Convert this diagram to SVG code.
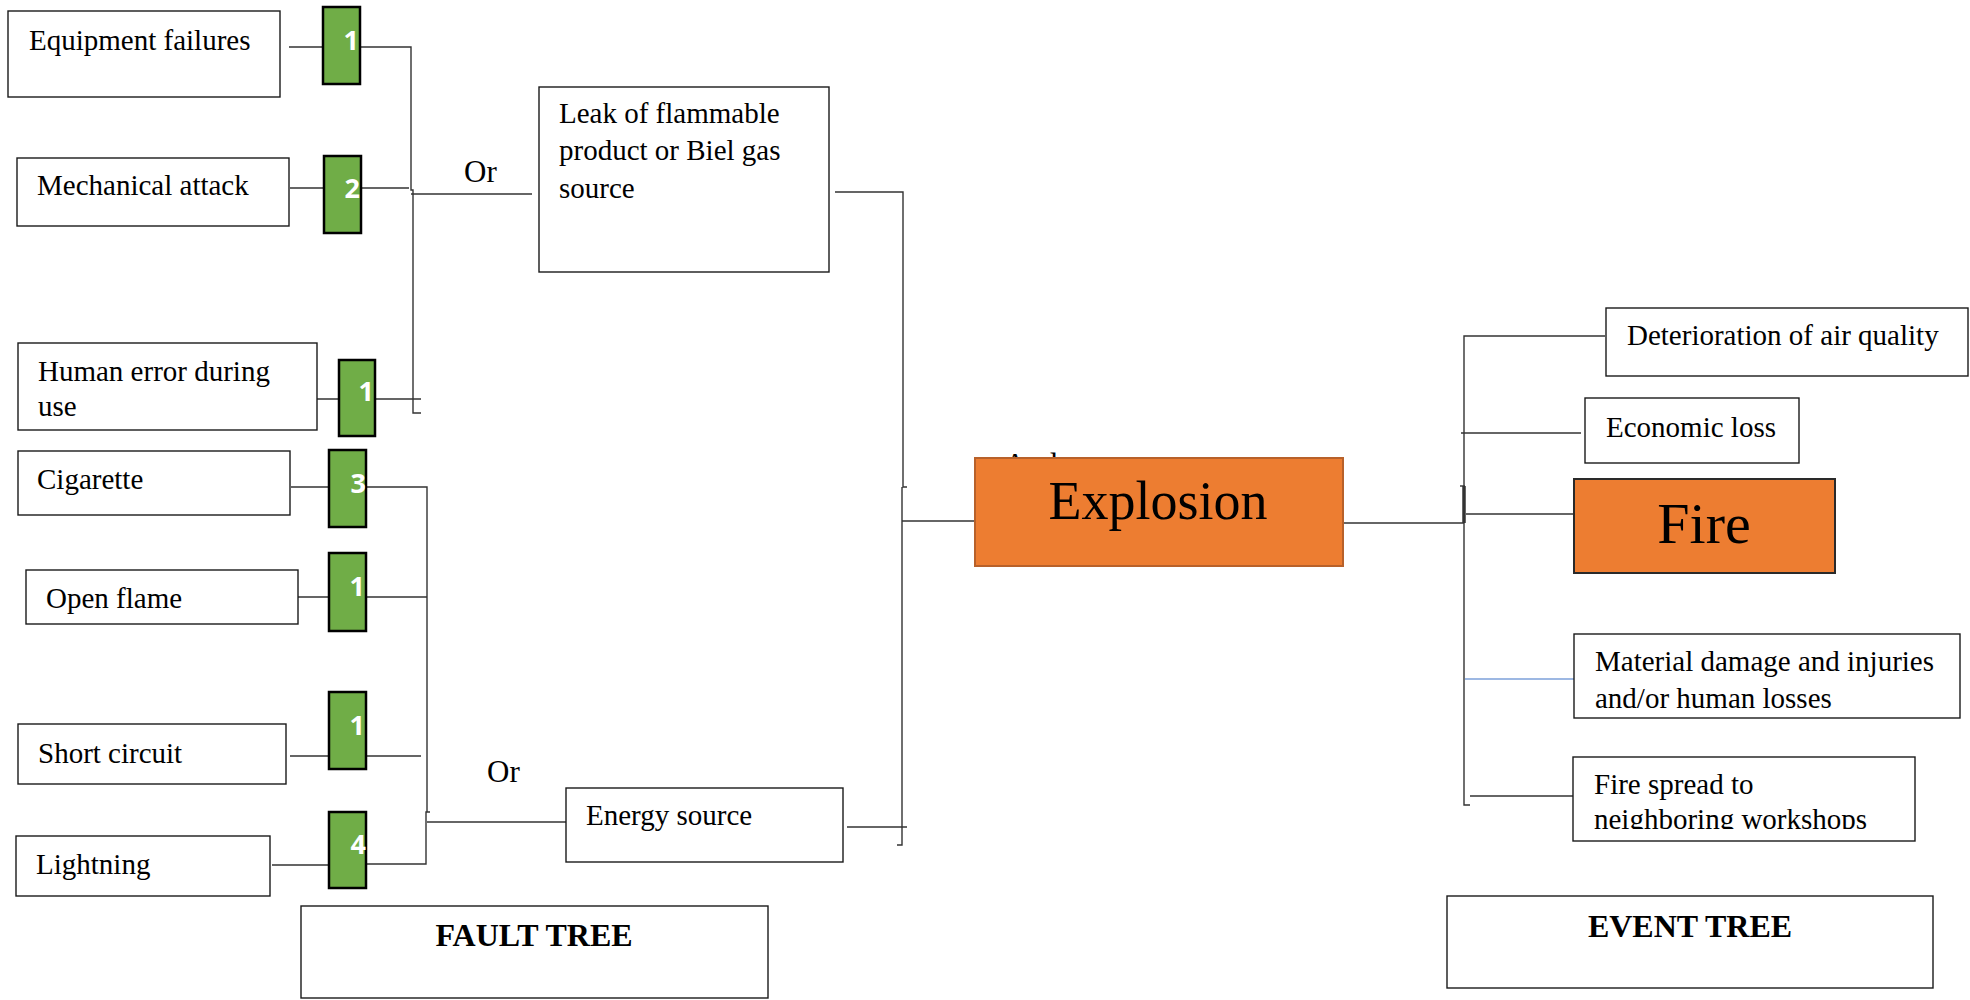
<svg xmlns="http://www.w3.org/2000/svg" width="1970" height="1000" viewBox="0 0 1970 1000">
<defs>
<style>
.box{fill:#fff;stroke:#1a1a1a;stroke-width:1.4}
.t{font-family:"Liberation Serif","Times New Roman",serif;font-size:29px;fill:#000}
.or{font-family:"Liberation Serif","Times New Roman",serif;font-size:31px;fill:#000}
.title{font-family:"Liberation Serif","Times New Roman",serif;font-size:32px;font-weight:bold;fill:#000;text-anchor:middle}
.g{fill:#70AD47;stroke:#000;stroke-width:2.5}
.n{font-family:"Open Sans","Liberation Sans",sans-serif;font-size:27px;font-weight:bold;fill:#fff;text-anchor:end}
.orange{fill:#ED7D31}
.big{font-family:"Liberation Serif","Times New Roman",serif;fill:#000;text-anchor:middle}
.c{fill:none;stroke:#333;stroke-width:1.4}
</style>
<clipPath id="clipSpread"><rect x="1573" y="757" width="342" height="72"/></clipPath>
</defs>
<rect width="1970" height="1000" fill="#fff"/>

<g id="connectors">
<path class="c" d="M289,47H323M360,47H411V190H413V413H421"/>
<path class="c" d="M290,188H324M361,188H409"/>
<path class="c" d="M411,194H532"/>
<path class="c" d="M317,399H339M375,399H421"/>
<path class="c" d="M291,487H329M366,487H427V812"/>
<path class="c" d="M298,597H329M366,597H427"/>
<path class="c" d="M290,756H329M366,756H421"/>
<path class="c" d="M272,865H329M366,864H426V812H430"/>
<path class="c" d="M427,822H566"/>
<path class="c" d="M835,192H903V487H907M902,487V845H897"/>
<path class="c" d="M902,521H975"/>
<path class="c" d="M847,827H907"/>
<path class="c" d="M1343,523H1464"/>
<path class="c" d="M1605,336H1464V805H1470"/>
<path class="c" d="M1461,433H1581"/>
<path d="M1464,486V523" stroke="#333" stroke-width="3.5" fill="none"/>
<path d="M1460,486H1465" stroke="#333" stroke-width="1.4"/>
<path class="c" d="M1466,514H1574"/>
<path d="M1465,679H1574" stroke="#7DA0DA" stroke-width="1.6" fill="none"/>
<path class="c" d="M1470,796H1573"/>
</g>

<g id="node-equipment"><rect class="box" x="8" y="11" width="272" height="86"/><text class="t" x="29" y="50">Equipment failures</text></g>
<g id="gate-1a"><rect class="g" x="323" y="7" width="37" height="77"/><text class="n" x="359" y="50">1</text></g>

<g id="node-mechanical"><rect class="box" x="17" y="158" width="272" height="68"/><text class="t" x="37" y="195">Mechanical attack</text></g>
<g id="gate-2"><rect class="g" x="324" y="156" width="37" height="77"/><text class="n" x="360" y="198">2</text></g>

<g id="node-human"><rect class="box" x="18" y="343" width="299" height="87"/><text class="t" x="38" y="381">Human error during</text><text class="t" x="38" y="416">use</text></g>
<g id="gate-1b"><rect class="g" x="339" y="360" width="36" height="76"/><text class="n" x="374" y="401">1</text></g>

<g id="node-cigarette"><rect class="box" x="18" y="451" width="272" height="64"/><text class="t" x="37" y="489">Cigarette</text></g>
<g id="gate-3"><rect class="g" x="329" y="450" width="37" height="77"/><text class="n" x="366" y="493">3</text></g>

<g id="node-flame"><rect class="box" x="26" y="570" width="272" height="54"/><text class="t" x="46" y="608">Open flame</text></g>
<g id="gate-1c"><rect class="g" x="329" y="553" width="37" height="78"/><text class="n" x="365" y="596">1</text></g>

<g id="node-short"><rect class="box" x="18" y="724" width="268" height="60"/><text class="t" x="38" y="763">Short circuit</text></g>
<g id="gate-1d"><rect class="g" x="329" y="692" width="37" height="77"/><text class="n" x="365" y="735">1</text></g>

<g id="node-lightning"><rect class="box" x="16" y="836" width="254" height="60"/><text class="t" x="36" y="874">Lightning</text></g>
<g id="gate-4"><rect class="g" x="329" y="812" width="37" height="76"/><text class="n" x="366" y="854">4</text></g>

<g id="label-or1"><text class="or" x="464" y="182">Or</text></g>
<g id="label-or2"><text class="or" x="487" y="782">Or</text></g>

<g id="node-leak"><rect class="box" x="539" y="87" width="290" height="185"/>
<text class="t" x="559" y="123">Leak of flammable</text>
<text class="t" x="559" y="160">product or Biel gas</text>
<text class="t" x="559" y="198">source</text></g>

<g id="node-energy"><rect class="box" x="566" y="788" width="277" height="74"/><text class="t" x="586" y="825">Energy source</text></g>

<g id="label-and"><text class="or" x="1004" y="475">And</text></g>

<g id="node-explosion"><rect class="orange" x="975" y="458" width="368" height="108" stroke="#B8612A" stroke-width="2"/><text class="big" x="1158" y="519" font-size="54">Explosion</text></g>

<g id="node-air"><rect class="box" x="1606" y="308" width="362" height="68"/><text class="t" x="1627" y="345">Deterioration of air quality</text></g>
<g id="node-economic"><rect class="box" x="1585" y="398" width="214" height="65"/><text class="t" x="1606" y="437">Economic loss</text></g>
<g id="node-fire"><rect class="orange" x="1574" y="479" width="261" height="94" stroke="#2a2a2a" stroke-width="2"/><text class="big" x="1704" y="543" font-size="58">Fire</text></g>
<g id="node-material"><rect class="box" x="1574" y="634" width="386" height="84"/><text class="t" x="1595" y="671">Material damage and injuries</text><text class="t" x="1595" y="708">and/or human losses</text></g>
<g id="node-spread"><rect class="box" x="1573" y="757" width="342" height="84"/><g clip-path="url(#clipSpread)"><text class="t" x="1594" y="794">Fire spread to</text><text class="t" x="1594" y="829">neighboring workshops</text></g></g>

<g id="title-fault"><rect class="box" x="301" y="906" width="467" height="92"/><text class="title" x="534" y="946">FAULT TREE</text></g>
<g id="title-event"><rect class="box" x="1447" y="896" width="486" height="92"/><text class="title" x="1690" y="937">EVENT TREE</text></g>
</svg>
